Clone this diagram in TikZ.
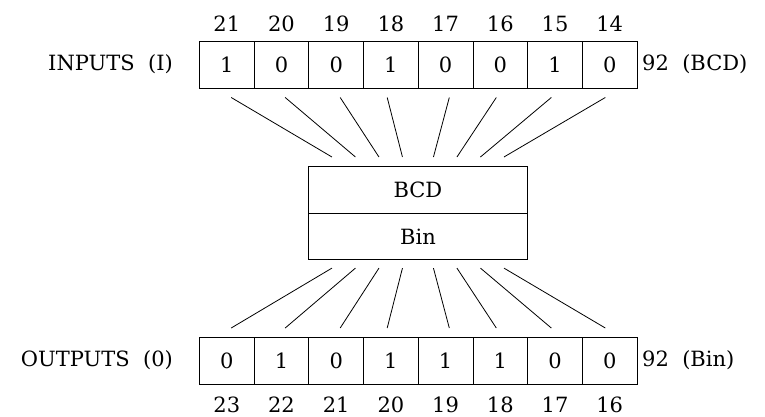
\documentclass[tikz,border=0pt]{standalone}
\usepackage{fontspec}
\setmainfont{DejaVu Serif}
\usetikzlibrary{calc}
\begin{document}
\begin{tikzpicture}[x=1pt,y=-1pt,
  every node/.style={font=\fontsize{21}{24}\selectfont},
  cell/.style={draw, line width=0.9pt, minimum width=54.7pt, minimum height=46.6pt, inner sep=0pt, anchor=north west},
  half/.style={draw, line width=0.9pt, minimum width=219pt, minimum height=46.6pt, inner sep=0pt, anchor=north west},
  lbl/.style={inner sep=0pt},
  wire/.style={line width=0.8pt}]
\useasboundingbox (0,0) rectangle (765,416);
% input register
\foreach \i/\v/\n in {1/1/21,2/0/20,3/0/19,4/1/18,5/0/17,6/0/16,7/1/15,8/0/14}{
  \node[cell] (t\i) at ({199+54.7*(\i-1)},41) {\v};
  \node[lbl] (tn\i) at ($(t\i.north)+(0,-17)$) {\n};
}
% output register
\foreach \i/\v/\n in {1/0/23,2/1/22,3/0/21,4/1/20,5/1/19,6/1/18,7/0/17,8/0/16}{
  \node[cell] (b\i) at ({199+54.7*(\i-1)},337) {\v};
  \node[lbl] (bn\i) at ($(b\i.south)+(0,20)$) {\n};
}
% side labels
\node[lbl, anchor=east] (inl) at (173,64) {INPUTS~~(I)};
\node[lbl, anchor=west] (inr) at (642,64) {92~~(BCD)};
\node[lbl, anchor=east] (outl) at (173,360) {OUTPUTS~~(0)};
\node[lbl, anchor=west] (outr) at (642,360) {92~~(Bin)};
% converter box
\node[half] (bcd) at (308,166) {BCD};
\node[half] (bin) at (308,212.6) {Bin};
% connectors
\foreach \i/\dx/\ex in {1/4.4/-86,2/3.7/-62.5,3/4/-39,4/-3.7/-15.5,5/3.7/15.5,6/-4/39,7/-3.7/62.5,8/-4.4/86}{
  \draw[wire] ($(t\i.south)+(\dx,9)$) -- ($(bcd.north)+(\ex,-9)$);
  \draw[wire] ($(bin.south)+(\ex,8)$) -- ($(b\i.north)+(\dx,-9)$);
}
\end{tikzpicture}
\end{document}
